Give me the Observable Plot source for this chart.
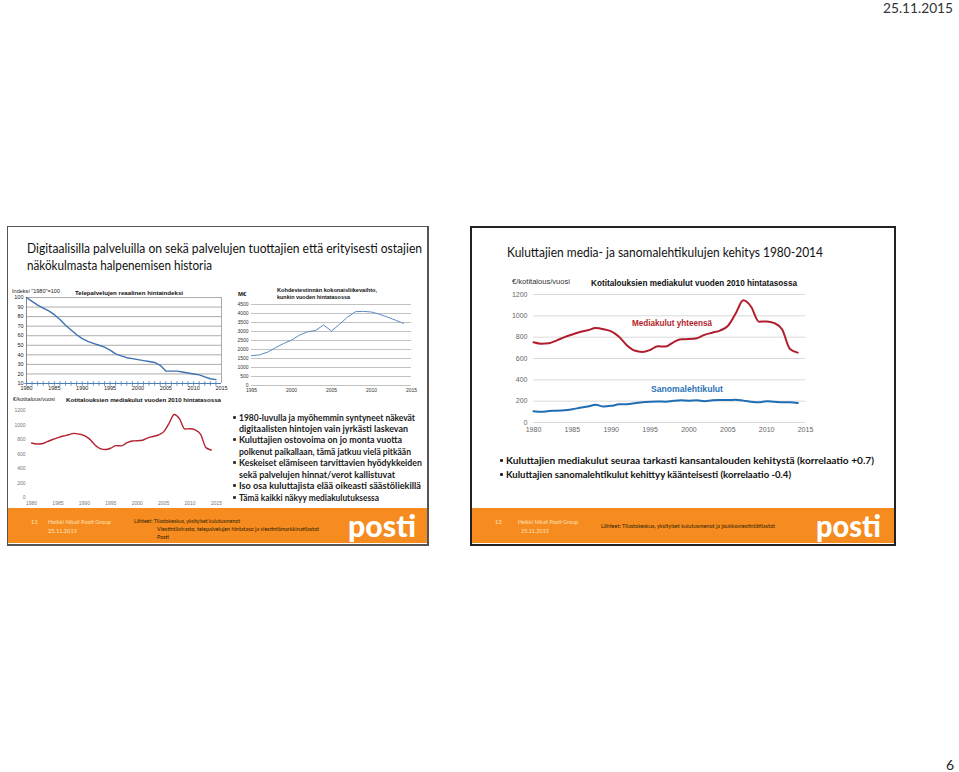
<!DOCTYPE html>
<html>
<head>
<meta charset="utf-8">
<script src="https://cdn.jsdelivr.net/npm/d3@7"></script>
<script src="https://cdn.jsdelivr.net/npm/@observablehq/plot@0.6"></script>
<style>
  html, body { margin: 0; padding: 0; background: #fff; }
  #page { position: relative; width: 959px; height: 772px; overflow: hidden; font-family: Lato, "Open Sans", sans-serif; }
  .t { position: absolute; white-space: nowrap; line-height: 1; display: inline-block; transform-origin: left center; }
  .box { position: absolute; box-sizing: border-box; }
  .chart { position: absolute; }
  .chart svg { overflow: visible; }
</style>
</head>
<body>
<div id="page"></div>
<script>
// ---------- DATA ----------
const mediaYears = [1980,1981,1982,1983,1984,1985,1986,1987,1988,1989,1990,1991,1992,1993,1994,1995,1996,1997,1998,1999,2000,2001,2002,2003,2004,2005,2006,2007,2008,2009,2010,2011,2012,2013,2014];
const teleIndex   = [100,96,92,89,86,82,77,71,66,61,57,54,52,50,48,45,41,39,37,36,35,34,33,32,29,23,23,23,22,21,20,19,17,15,14];
const mediaTotal  = [752,738,742,770,800,825,848,865,885,875,855,805,725,675,662,680,715,712,752,780,782,790,822,842,862,905,1020,1145,1085,945,948,932,872,688,655];
const newspaper   = [105,100,108,110,115,125,138,150,167,150,156,170,172,180,190,195,197,195,203,208,205,208,200,208,210,210,214,205,195,190,200,195,190,190,182];
const kohdeYears  = [1995,1996,1997,1998,1999,2000,2001,2002,2003,2004,2005,2006,2007,2008,2009,2010,2011,2012,2013,2014];
const kohdeValues = [1660,1700,1850,2100,2330,2520,2800,2980,3060,3360,3030,3400,3800,4100,4120,4080,3960,3800,3630,3450];
const xTicks5 = [1980,1985,1990,1995,2000,2005,2010,2015];
const xTicksKohde = [1995,2000,2005,2010,2015];
const teleTicksY = [10,20,30,40,50,60,70,80,90,100];
const kohdeTicksY = [0,500,1000,1500,2000,2500,3000,3500,4000,4500];
const mediaTicksY = [0,200,400,600,800,1000,1200];

const teleRows = mediaYears.map((y, i) => ({year: y, value: teleIndex[i]}));
const kohdeRows = kohdeYears.map((y, i) => ({year: y, value: kohdeValues[i]}));
const totalRows = mediaYears.map((y, i) => ({year: y, value: mediaTotal[i]}));
const paperRows = mediaYears.map((y, i) => ({year: y, value: newspaper[i]}));

const fmt = d => String(d);
const page = document.getElementById("page");
const fits = [];
function T(text, x, yc, size, o = {}) {
  const el = document.createElement("span");
  el.className = "t";
  el.textContent = text;
  el.style.left = x + "px";
  el.style.top = (yc - size / 2) + "px";
  el.style.fontSize = size + "px";
  el.style.color = o.color || "#222";
  el.style.fontWeight = o.weight || 400;
  if (o.family) el.style.fontFamily = o.family;
  page.appendChild(el);
  if (o.w) fits.push([el, o.w]);
  return el;
}
function B(x, y, w, h, style) {
  const el = document.createElement("div");
  el.className = "box";
  Object.assign(el.style, {left: x + "px", top: y + "px", width: w + "px", height: h + "px"}, style);
  page.appendChild(el);
  return el;
}
function dotBullet(x, yc, s, color) {
  B(x, yc - s / 2, s, s, {background: color || "#222", borderRadius: "1px"});
}
function place(svg, x, y) {
  const d = document.createElement("div");
  d.className = "chart";
  d.style.left = x + "px";
  d.style.top = y + "px";
  d.appendChild(svg);
  page.appendChild(d);
}

// ---------- SLIDE FRAMES ----------
B(7, 226, 422, 320, {border: "1px solid #555", borderRightWidth: "2px", borderBottomWidth: "2px"});
B(470, 226, 426, 320, {border: "2px solid #222"});
const ORANGE = "#f68b1f";
B(8, 508, 419, 35, {background: ORANGE});
B(472, 508, 422, 35, {background: ORANGE});

// ---------- PAGE TEXT ----------
T("25.11.2015", 883, 8, 14, {color: "#333", w: 70});
T("6", 946, 765, 14, {color: "#222"});

T("Digitaalisilla palveluilla on sekä palvelujen tuottajien että erityisesti ostajien", 27, 248, 13, {color: "#111", w: 395});
T("näkökulmasta halpenemisen historia", 27, 265, 13, {color: "#111", w: 185});
T("Kuluttajien media- ja sanomalehtikulujen kehitys 1980-2014", 507, 252, 13, {color: "#111", w: 316});

const CF = "'Liberation Sans', Arial, sans-serif";
// ---------- CHART 1 ----------
T('Indeksi "1980"=100', 12, 292, 5.5, {family: CF, color: "#222", w: 48});
T("Telepalvelujen reaalinen hintaindeksi", 75, 293, 6, {family: CF, weight: 700, color: "#111", w: 108});
const tele = Plot.plot({
  width: 230, height: 115,
  marginLeft: 26, marginRight: 9, marginTop: 12, marginBottom: 17,
  style: {fontFamily: CF, fontSize: "5.5px", color: "#222", background: "transparent"},
  x: {domain: [1980, 2015], ticks: xTicks5, tickFormat: fmt, tickSize: 0, tickPadding: 3, label: null},
  y: {domain: [10, 100], ticks: teleTicksY, tickFormat: fmt, tickSize: 0, tickPadding: 3, label: null},
  marks: [
    Plot.gridY(teleTicksY, {stroke: "#888", strokeOpacity: 0.7}),
    Plot.ruleX([1980], {stroke: "#888"}),
    Plot.ruleX([2015], {stroke: "#aaa"}),
    Plot.ruleY([10], {stroke: "#4a7ebb", strokeWidth: 1}),
    Plot.dot(mediaYears, {x: d => d, y: () => 10, symbol: "plus", r: 1.6, stroke: "#4a7ebb", strokeWidth: 0.8}),
    Plot.line(teleRows, {x: "year", y: "value", stroke: "#3d72b0", strokeWidth: 1.4})
  ]
});
place(tele, 0, 285);

// ---------- CHART 2 ----------
T("M€", 238, 294, 6, {family: CF, weight: 700, color: "#111"});
T("Kohdeviestinnän kokonaisliikevaihto,", 277, 291, 5.5, {family: CF, weight: 700, color: "#111", w: 100});
T("kunkin vuoden hintatasossa", 277, 298, 5.5, {family: CF, weight: 700, color: "#111", w: 73});
const kohde = Plot.plot({
  width: 190, height: 115,
  marginLeft: 21, marginRight: 9, marginTop: 19, marginBottom: 15,
  style: {fontFamily: CF, fontSize: "5px", color: "#333", background: "transparent"},
  x: {domain: [1995, 2015], ticks: xTicksKohde, tickFormat: fmt, tickSize: 0, tickPadding: 3, label: null},
  y: {domain: [0, 4500], ticks: kohdeTicksY, tickFormat: fmt, tickSize: 0, tickPadding: 3, label: null},
  marks: [
    Plot.gridY(kohdeTicksY, {stroke: "#999", strokeOpacity: 0.6}),
    Plot.line(kohdeRows, {x: "year", y: "value", stroke: "#5b8ac4", strokeWidth: 1})
  ]
});
place(kohde, 230, 285);

// ---------- CHART 3 ----------
T("€/kotitalous/vuosi", 13, 400, 5.5, {family: CF, color: "#222", w: 42});
T("Kotitalouksien mediakulut vuoden 2010 hintatasossa", 66, 400, 6, {family: CF, weight: 700, color: "#111", w: 155});
const small = Plot.plot({
  width: 235, height: 115,
  marginLeft: 31, marginRight: 19, marginTop: 15, marginBottom: 13,
  style: {fontFamily: CF, fontSize: "5px", color: "#777", background: "transparent"},
  x: {domain: [1980, 2015], ticks: xTicks5, tickFormat: fmt, tickSize: 0, tickPadding: 4, label: null},
  y: {domain: [0, 1200], ticks: mediaTicksY, tickFormat: fmt, tickSize: 0, tickPadding: 6, label: null},
  marks: [
    Plot.line(totalRows, {x: "year", y: "value", stroke: "#b2222f", strokeWidth: 1.4, curve: "monotone-x"})
  ]
});
place(small, 0, 395);

// ---------- Left bullets ----------
const leftLines = [
  ["1980-luvulla ja myöhemmin syntyneet näkevät", true, 417, 176],
  ["digitaalisten hintojen vain jyrkästi laskevan", false, 428, 169],
  ["Kuluttajien ostovoima on jo monta vuotta", true, 439, 163],
  ["polkenut paikallaan, tämä jatkuu vielä pitkään", false, 451, 172],
  ["Keskeiset elämiseen tarvittavien hyödykkeiden", true, 462, 183],
  ["sekä palvelujen hinnat/verot  kallistuvat", false, 474, 156],
  ["Iso osa kuluttajista elää oikeasti säästöliekillä", true, 485, 182],
  ["Tämä kaikki näkyy mediakulutuksessa", true, 497, 140]
];
leftLines.forEach(([txt, bullet, yc, w]) => {
  if (bullet) dotBullet(233, yc + 0.5, 2.5, "#333");
  T(txt, 239, yc, 10, {color: "#1a1a1a", weight: 700, w});
});

// ---------- CHART 4 ----------
T("€/kotitalous/vuosi", 512, 281, 7, {family: CF, color: "#333", w: 58});
T("Kotitalouksien mediakulut vuoden 2010 hintatasossa", 591, 283, 8.5, {family: CF, weight: 700, color: "#111", w: 206});
const main = Plot.plot({
  width: 330, height: 170,
  marginLeft: 33, marginRight: 25, marginTop: 24, marginBottom: 18,
  style: {fontFamily: CF, fontSize: "7px", color: "#666", background: "transparent"},
  x: {domain: [1980, 2015], ticks: xTicks5, tickFormat: fmt, tickSize: 0, tickPadding: 5, label: null},
  y: {domain: [0, 1200], ticks: mediaTicksY, tickFormat: fmt, tickSize: 0, tickPadding: 6, label: null},
  marks: [
    Plot.gridY(mediaTicksY, {stroke: "#d9d9d9", strokeOpacity: 1}),
    Plot.line(paperRows, {x: "year", y: "value", stroke: "#1f6db3", strokeWidth: 2, curve: "monotone-x"}),
    Plot.line(totalRows, {x: "year", y: "value", stroke: "#b01e2d", strokeWidth: 2, curve: "monotone-x"})
  ]
});
place(main, 500, 270);
T("Mediakulut yhteensä", 632, 323, 8.5, {family: CF, weight: 700, color: "#b01e2d", w: 80});
T("Sanomalehtikulut", 651, 389, 8.5, {family: CF, weight: 700, color: "#2a73b8", w: 72});

// ---------- Right bullets ----------
dotBullet(500, 460.5, 2.5, "#222");
T("Kuluttajien mediakulut seuraa tarkasti kansantalouden kehitystä (korrelaatio +0.7)", 506, 460, 10, {weight: 700, color: "#111", w: 368});
dotBullet(500, 474.5, 2.5, "#222");
T("Kuluttajien sanomalehtikulut kehittyy käänteisesti (korrelaatio -0.4)", 506, 474, 10, {weight: 700, color: "#111", w: 285});

// ---------- Footers ----------
const FL = "#fde3bd", FD = "#2e2206";
T("11", 31, 522, 6, {color: FL});
T("Heikki Nikali Posti Group", 48, 522, 6, {color: FL, w: 63});
T("25.11.2015", 48, 531, 6, {color: FL, w: 29});
T("Lähteet: Tilastokeskus, yksityiset kulutusmenot", 134, 521, 5.8, {color: FD, w: 106});
T("Viestintävirasto, telepalvelujen hintataso ja viestintämarkkinatilastot", 157, 529, 5.8, {color: FD, w: 162});
T("Posti", 157, 537, 5.8, {color: FD, w: 12});
T("posti", 348, 525, 30, {color: "#fff", weight: 900, w: 68});

T("12", 495, 522, 6, {color: FL});
T("Heikki Nikali Posti Group", 518, 522, 6, {color: FL, w: 60});
T("25.11.2015", 521, 531, 6, {color: FL, w: 28});
T("Lähteet: Tilastokeskus, yksityiset kulutusmenot ja joukkoviestintätilastot", 601, 526, 5.8, {color: FD, w: 174});
T("posti", 816, 525, 30, {color: "#fff", weight: 900, w: 65});

function applyFits() {
  fits.forEach(([el, w]) => {
    el.style.transform = "none";
    const r = el.getBoundingClientRect().width;
    if (r > 0) el.style.transform = `scaleX(${w / r})`;
  });
}
applyFits();
if (document.fonts && document.fonts.ready) document.fonts.ready.then(applyFits);
</script>
</body>
</html>
